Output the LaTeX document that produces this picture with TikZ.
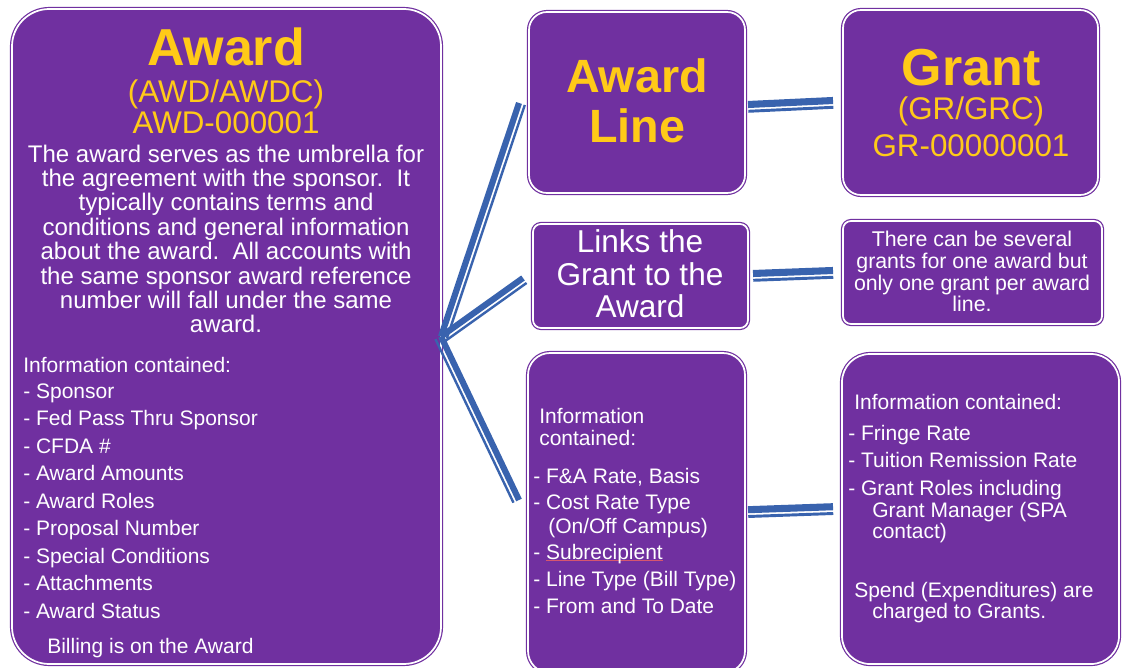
\documentclass[tikz,border=0pt]{standalone}
\usepackage{fontspec}
\setmainfont{Liberation Sans}
\usetikzlibrary{calc}
\definecolor{purp}{RGB}{112,48,160}
\definecolor{ylw}{RGB}{255,202,24}
\definecolor{lnblue}{RGB}{57,99,174}
\definecolor{ulred}{RGB}{214,86,110}
\newcommand\redul[1]{\setbox0\hbox{#1}\rlap{\color{ulred}\rule[-1.6pt]{\wd0}{0.6pt}}#1}
% #1,#2 ends; #3 thick width; #4 thin width; #5 offset
\newcommand\dbl[5]{\draw[conn, line width=#3] (#1) -- (#2);
  \draw[conn, line width=#4] ($(#1)!#5!-90:(#2)$) -- ($(#2)!#5!90:(#1)$);}
\begin{document}
\begin{tikzpicture}[x=0.75pt,y=-0.75pt,
  box/.style={draw=purp, fill=purp, double=white, double distance=1.3pt, line width=0.9pt,
    inner sep=0pt, outer sep=0pt, anchor=north west},
  conn/.style={draw=lnblue},
  ttl/.style={text=ylw, font=\bfseries\fontsize{39pt}{39pt}\selectfont, inner sep=0pt, anchor=base},
  ttlb/.style={text=ylw, font=\bfseries\fontsize{35pt}{35pt}\selectfont, inner sep=0pt, anchor=base},
  sub/.style={text=ylw, font=\fontsize{23.5pt}{23.5pt}\selectfont, inner sep=0pt, anchor=base},
  body/.style={text=white, font=\fontsize{18pt}{18pt}\selectfont, inner sep=0pt, anchor=base},
  links/.style={text=white, font=\fontsize{23.7pt}{23.7pt}\selectfont, inner sep=0pt, anchor=base},
  small/.style={text=white, font=\fontsize{16pt}{16pt}\selectfont, inner sep=0pt, anchor=base},
  lst/.style={text=white, font=\fontsize{15.75pt}{15.75pt}\selectfont, inner sep=0pt, anchor=base west}]
\fill[white] (0,0) rectangle (1123,667);
\useasboundingbox (0,0) rectangle (1123,667);

% boxes
\node[box, rounded corners=28pt, minimum width=321.75pt, minimum height=491.25pt] (aw) at (12,9) {};
\node[box, rounded corners=13.5pt, minimum width=162pt, minimum height=135.75pt] (awl) at (529,12) {};
\node[box, rounded corners=13.5pt, minimum width=191.25pt, minimum height=138.75pt] (gr) at (843,10) {};
\node[box, rounded corners=6pt, minimum width=161.25pt, minimum height=78pt] (lk) at (533,224) {};
\node[box, rounded corners=6pt, minimum width=194.25pt, minimum height=77.25pt] (th) at (843,221) {};
\node[box, rounded corners=16.5pt, minimum width=162.75pt, minimum height=240pt] (mi) at (528,353) {};
\node[box, rounded corners=21pt, minimum width=207.75pt, minimum height=232.5pt] (ri) at (842,354) {};

% connectors
\coordinate (f1) at (519,103);
\coordinate (f2) at (523,278);
\coordinate (f3) at (519,500);
\coordinate (h1a) at ($(awl.east)+(3,2)$);
\coordinate (h1b) at (833,100.5);
\coordinate (h2a) at ($(lk.east)+(5,-2.5)$);
\coordinate (h2b) at (833,270.5);
\coordinate (h3a) at ($(mi.east)+(3,-3.3)$);
\coordinate (h3b) at (833,506.7);
\dbl{aw.east}{f1}{4.6pt}{1.8pt}{4.6pt}
\dbl{aw.east}{f2}{4.6pt}{1.8pt}{4.6pt}
\dbl{aw.east}{f3}{4.6pt}{1.8pt}{4.6pt}
\dbl{h1a}{h1b}{5.3pt}{2.2pt}{5.1pt}
\dbl{h2a}{h2b}{5.3pt}{2.2pt}{5.1pt}
\dbl{h3a}{h3b}{5.3pt}{2.2pt}{5.1pt}

% Award box text
\node[ttl] (awt) at (226,65) {Award};
\node[sub] (aws1) at (226,102) {(AWD/AWDC)};
\node[sub] (aws2) at (226,133) {AWD-000001};
\foreach \t [count=\i] in {The award serves as the umbrella for,
  the agreement with the sponsor.\ \ It,
  typically contains terms and,
  conditions and general information,
  about the award.\ \ All accounts with,
  the same sponsor award reference,
  number will fall under the same,
  award.}
  \node[body] (awb\i) at (226,{162+24.4*(\i-1)}) {\t};
\node[lst] (awi) at (23,372) {Information contained:};
\foreach \t [count=\i] in {- Sponsor, - Fed Pass Thru Sponsor, - CFDA \#, - Award Amounts,
  - Award Roles, - Proposal Number, - Special Conditions, - Attachments, - Award Status}
  \node[lst] (awl\i) at (23,{398+27.5*(\i-1)}) {\t};
\node[lst] (awbill) at (47,653) {Billing is on the Award};

% Award Line box
\node[ttlb] (awlt1) at (637,92) {Award};
\node[ttlb] (awlt2) at (637,142) {Line};

% Grant box
\node[ttl] (grt) at (971,85) {Grant};
\node[sub] (grs1) at (971,119) {(GR/GRC)};
\node[sub] (grs2) at (971,156) {GR-00000001};

% Links box
\node[links] (lk1) at (640,252) {Links the};
\node[links] (lk2) at (640,285) {Grant to the};
\node[links] (lk3) at (640,317) {Award};

% There box
\node[small] (th1) at (972,246) {There can be several};
\node[small] (th2) at (972,268) {grants for one award but};
\node[small] (th3) at (972,290) {only one grant per award};
\node[small] (th4) at (972,311) {line.};

% middle info box
\node[lst] (mi1) at (539,423) {Information};
\node[lst] (mi2) at (539,445) {contained:};
\node[lst] (mi3) at (533,483) {- F\&A Rate, Basis};
\node[lst] (mi4) at (533,509) {- Cost Rate Type};
\node[lst] (mi5) at (548,533) {(On/Off Campus)};
\node[lst] (mi6) at (533,559) {- \redul{Subrecipient}};
\node[lst] (mi7) at (533,586) {- Line Type (Bill Type)};
\node[lst] (mi8) at (533,613) {- From and To Date};

% right info box
\node[lst] (ri1) at (854,409) {Information contained:};
\node[lst] (ri2) at (848,440) {- Fringe Rate};
\node[lst] (ri3) at (848,467) {- Tuition Remission Rate};
\node[lst] (ri4) at (848,495) {- Grant Roles including};
\node[lst] (ri5) at (872,517) {Grant Manager (SPA};
\node[lst] (ri6) at (872,538) {contact)};
\node[lst] (ri7) at (854,597) {Spend (Expenditures) are};
\node[lst] (ri8) at (872,618) {charged to Grants.};
\end{tikzpicture}
\end{document}
